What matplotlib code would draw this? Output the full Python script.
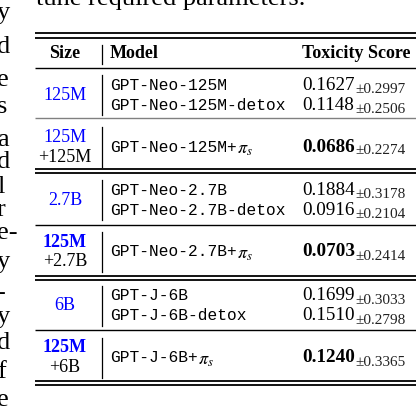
import matplotlib.pyplot as plt

plt.rcParams['mathtext.fontset'] = 'stix'

sizes = ['125M', ['125M', '+125M'], '2.7B', ['125M', '+2.7B'], '6B', ['125M', '+6B']]
size_bold = [False, False, False, True, False, True]
models = [['GPT-Neo-125M', 'GPT-Neo-125M-detox'], ['GPT-Neo-125M+'],
          ['GPT-Neo-2.7B', 'GPT-Neo-2.7B-detox'], ['GPT-Neo-2.7B+'],
          ['GPT-J-6B', 'GPT-J-6B-detox'], ['GPT-J-6B+']]
scores = [['0.1627', '0.1148'], ['0.0686'], ['0.1884', '0.0916'], ['0.0703'],
          ['0.1699', '0.1510'], ['0.1240']]
stds = [['0.2997', '0.2506'], ['0.2274'], ['0.3178', '0.2104'], ['0.2414'],
        ['0.3033', '0.2798'], ['0.3365']]
margin = [('y', 13), ('d', 47), ('e', 80), ('s', 107), ('a', 140), ('d', 162), ('l', 187),
          ('r', 210), ('e-', 233), ('y', 262), ('-', 293), ('y', 317), ('d', 343),
          ('f', 372), ('e', 400)]

fig = plt.figure(figsize=(4.16, 4.12), dpi=100)
ax = fig.add_axes([0, 0, 1, 1])
ax.set_xlim(0, 416)
ax.set_ylim(412, 0)
ax.axis('off')

serif = 'Liberation Serif'
mono = 'Liberation Mono'
blue = '#0000ff'

ax.text(36, -1, 'tune required parameters.', family=serif, fontsize=19, va='center')
for ch, y in margin:
    ax.text(-3, y, ch, family=serif, fontsize=19, va='center')

def hline(y, c='black', lw=1.0):
    ax.plot([35, 416], [y, y], color=c, lw=lw, solid_capstyle='butt')

hline(33, lw=1.3); hline(38, lw=1.3)
ax.text(65, 53, 'Size', family=serif, weight='bold', fontsize=13, ha='center', va='center')
ax.text(110, 53, 'Model', family=serif, weight='bold', fontsize=13, va='center')
ax.text(302, 53, 'Toxicity Score', family=serif, weight='bold', fontsize=13, va='center')
ax.plot([102, 102], [45, 64], color='black', lw=0.9)
hline(68)

row_centers = [95, 147, 200, 252, 306, 358]
row_half = [20, 20, 20, 20, 20, 20]
seps = [(118, 'gray', False), (169, 'black', True), (225, 'black', False),
        (276, 'black', True), (330, 'black', False), (381, 'black', True)]

for i, yc in enumerate(row_centers):
    ax.plot([102, 102], [yc - row_half[i], yc + row_half[i]], color='black', lw=0.9)
    s = sizes[i]
    if isinstance(s, str):
        ax.text(65, yc, s, family=serif, fontsize=13, color=blue, ha='center', va='center')
    else:
        ax.text(65, yc - 10, s[0], family=serif, fontsize=13, color=blue,
                weight='bold' if size_bold[i] else 'normal', ha='center', va='center')
        ax.text(65, yc + 10, s[1], family=serif, fontsize=13, ha='center', va='center')
    n = len(models[i])
    ys = [yc - 10, yc + 10] if n == 2 else [yc]
    for m, sc, sd, y in zip(models[i], scores[i], stds[i], ys):
        ax.text(110, y, m, family=mono, fontsize=11.7, va='center')
        if n == 1:
            ax.text(110 + len(m) * 9.8, y + 2, r'$\pi_s$', fontsize=13, va='center')
        ax.text(302, y, sc, family=serif, fontsize=13.8, va='center',
                weight='bold' if n == 1 else 'normal')
        ax.text(355, y + 4, '\u00b1' + sd, family=serif, fontsize=11, va='center', color='#222222')

for y, c, double in seps:
    lw = 1.3 if double else 1.0
    hline(y, c=c, lw=lw)
    if double:
        hline(y + 4, c=c, lw=lw)

fig.savefig('out.png', dpi=100)
